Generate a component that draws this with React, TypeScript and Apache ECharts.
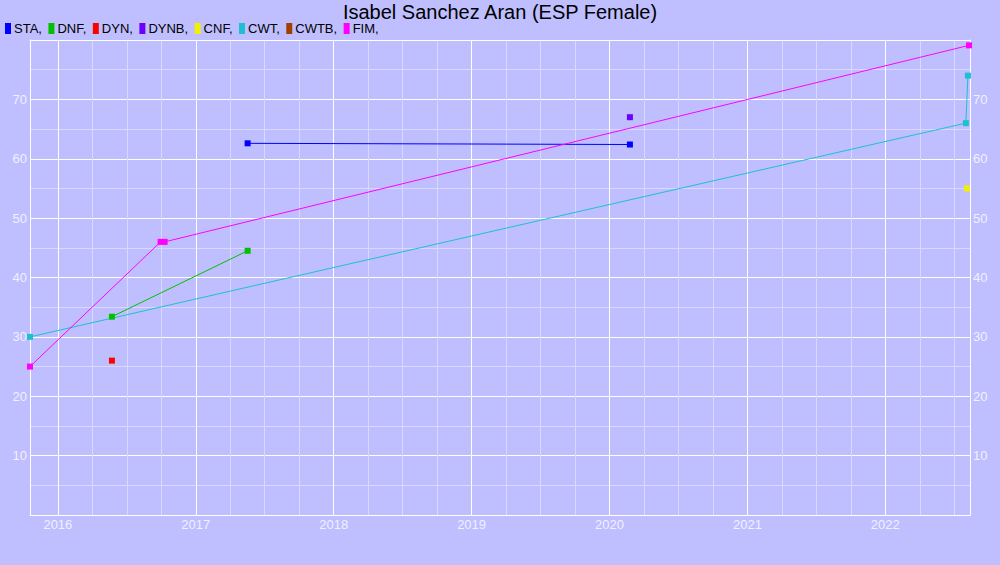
import React, { useEffect, useRef } from "react";
import * as echarts from "echarts";

const TITLE = "Isabel Sanchez Aran (ESP Female)";
const X_MIN = 2015.798;
const X_MAX = 2022.614;
const yearTicks = [2016, 2017, 2018, 2019, 2020, 2021, 2022];
const quarterTicks = [
  2016.25, 2016.5, 2016.75, 2017.25, 2017.5, 2017.75, 2018.25, 2018.5, 2018.75,
  2019.25, 2019.5, 2019.75, 2020.25, 2020.5, 2020.75, 2021.25, 2021.5, 2021.75,
  2022.25, 2022.5,
];

const seriesNames = ["STA", "DNF", "DYN", "DYNB", "CNF", "CWT", "CWTB", "FIM"];
const seriesColors = ["#0000ff", "#00c000", "#ff0000", "#6a00ff", "#f0f000", "#1ec0d0", "#a04000", "#ff00ff"];

const staData = [[2017.376, 62.6], [2020.148, 62.4]];
const dnfData = [[2016.392, 33.4], [2017.376, 44.5]];
const dynData = [[2016.392, 26.0]];
const dynbData = [[2020.148, 67.0]];
const cnfData = [[2022.592, 55.0]];
const cwtData = [[2015.798, 30.0], [2022.584, 66.0], [2022.599, 74.0]];
const cwtbData: number[][] = [];
const fimData = [[2015.798, 25.0], [2016.745, 46.0], [2016.774, 46.0], [2022.607, 79.1]];

const allData = [staData, dnfData, dynData, dynbData, cnfData, cwtData, cwtbData, fimData];

const LABEL_COLOR = "#f0f0ff";
const MINOR = "#d9d9ff";

export default function App() {
  const ref = useRef<HTMLDivElement>(null);
  useEffect(() => {
    if (!ref.current) return;
    const chart = echarts.init(ref.current, undefined, { renderer: "svg" });
    chart.setOption({
      animation: false,
      backgroundColor: "#bfbfff",
      title: {
        text: TITLE,
        left: "center",
        top: 1.5,
        padding: 0,
        textStyle: { fontFamily: "Liberation Sans", fontSize: 20, lineHeight: 20, fontWeight: "normal", color: "#000" },
      },
      legend: {
        left: 5,
        top: 22,
        padding: 0,
        itemWidth: 6,
        itemHeight: 11,
        itemGap: 6.5,
        icon: "rect",
        formatter: (n: string) => n + ",",
        textStyle: { fontFamily: "Liberation Sans", fontSize: 13, lineHeight: 12, color: "#000", padding: [0, 0, 0, -2] },
        data: seriesNames,
      },
      grid: { left: 30, right: 30, top: 40, bottom: 50, show: false },
      xAxis: [
        {
          type: "value",
          min: X_MIN,
          max: X_MAX,
          axisLine: { show: true, onZero: false, lineStyle: { color: "#ffffff", width: 1 } },
          axisTick: { show: false, customValues: yearTicks },
          axisLabel: {
            customValues: yearTicks,
            formatter: (v: number) => String(Math.round(v)),
            color: LABEL_COLOR,
            fontFamily: "Liberation Sans",
            fontSize: 13,
            margin: 3,
          },
          splitLine: { show: true, lineStyle: { color: "#ffffff", width: 1 } },
          z: 2,
        },
        {
          type: "value",
          min: X_MIN,
          max: X_MAX,
          position: "top",
          axisLine: { show: true, onZero: false, lineStyle: { color: "#ffffff", width: 1 } },
          axisTick: { show: false, customValues: quarterTicks },
          axisLabel: { show: false },
          splitLine: { show: true, lineStyle: { color: MINOR, width: 1 } },
          z: 1,
        },
      ],
      yAxis: [
        {
          type: "value",
          min: 0,
          max: 80,
          interval: 10,
          position: "left",
          axisLine: { show: true, lineStyle: { color: "#ffffff", width: 1 } },
          axisTick: { show: false },
          axisLabel: {
            showMinLabel: false,
            showMaxLabel: false,
            color: LABEL_COLOR,
            fontFamily: "Liberation Sans",
            fontSize: 13,
            margin: 3,
          },
          splitLine: { show: true, lineStyle: { color: "#ffffff", width: 1 } },
          minorTick: { show: false, splitNumber: 2 },
          minorSplitLine: { show: true, lineStyle: { color: MINOR, width: 1 } },
        },
        {
          type: "value",
          min: 0,
          max: 80,
          interval: 10,
          position: "right",
          axisLine: { show: true, lineStyle: { color: "#ffffff", width: 1 } },
          axisTick: { show: false },
          axisLabel: {
            showMinLabel: false,
            showMaxLabel: false,
            color: LABEL_COLOR,
            fontFamily: "Liberation Sans",
            fontSize: 13,
            margin: 3,
          },
          splitLine: { show: false },
        },
      ],
      series: seriesNames.map((name, i) => ({
        name,
        type: "line",
        xAxisIndex: 0,
        yAxisIndex: 0,
        data: allData[i],
        color: seriesColors[i],
        symbol: "rect",
        symbolSize: 6,
        showAllSymbol: true,
        lineStyle: { width: 1, color: seriesColors[i] },
        itemStyle: { color: seriesColors[i] },
        z: 3,
      })),
    });
    return () => chart.dispose();
  }, []);
  return (
    <div
      ref={ref}
      style={{ position: "absolute", left: 0, top: 0, width: 1000, height: 565 }}
    />
  );
}
